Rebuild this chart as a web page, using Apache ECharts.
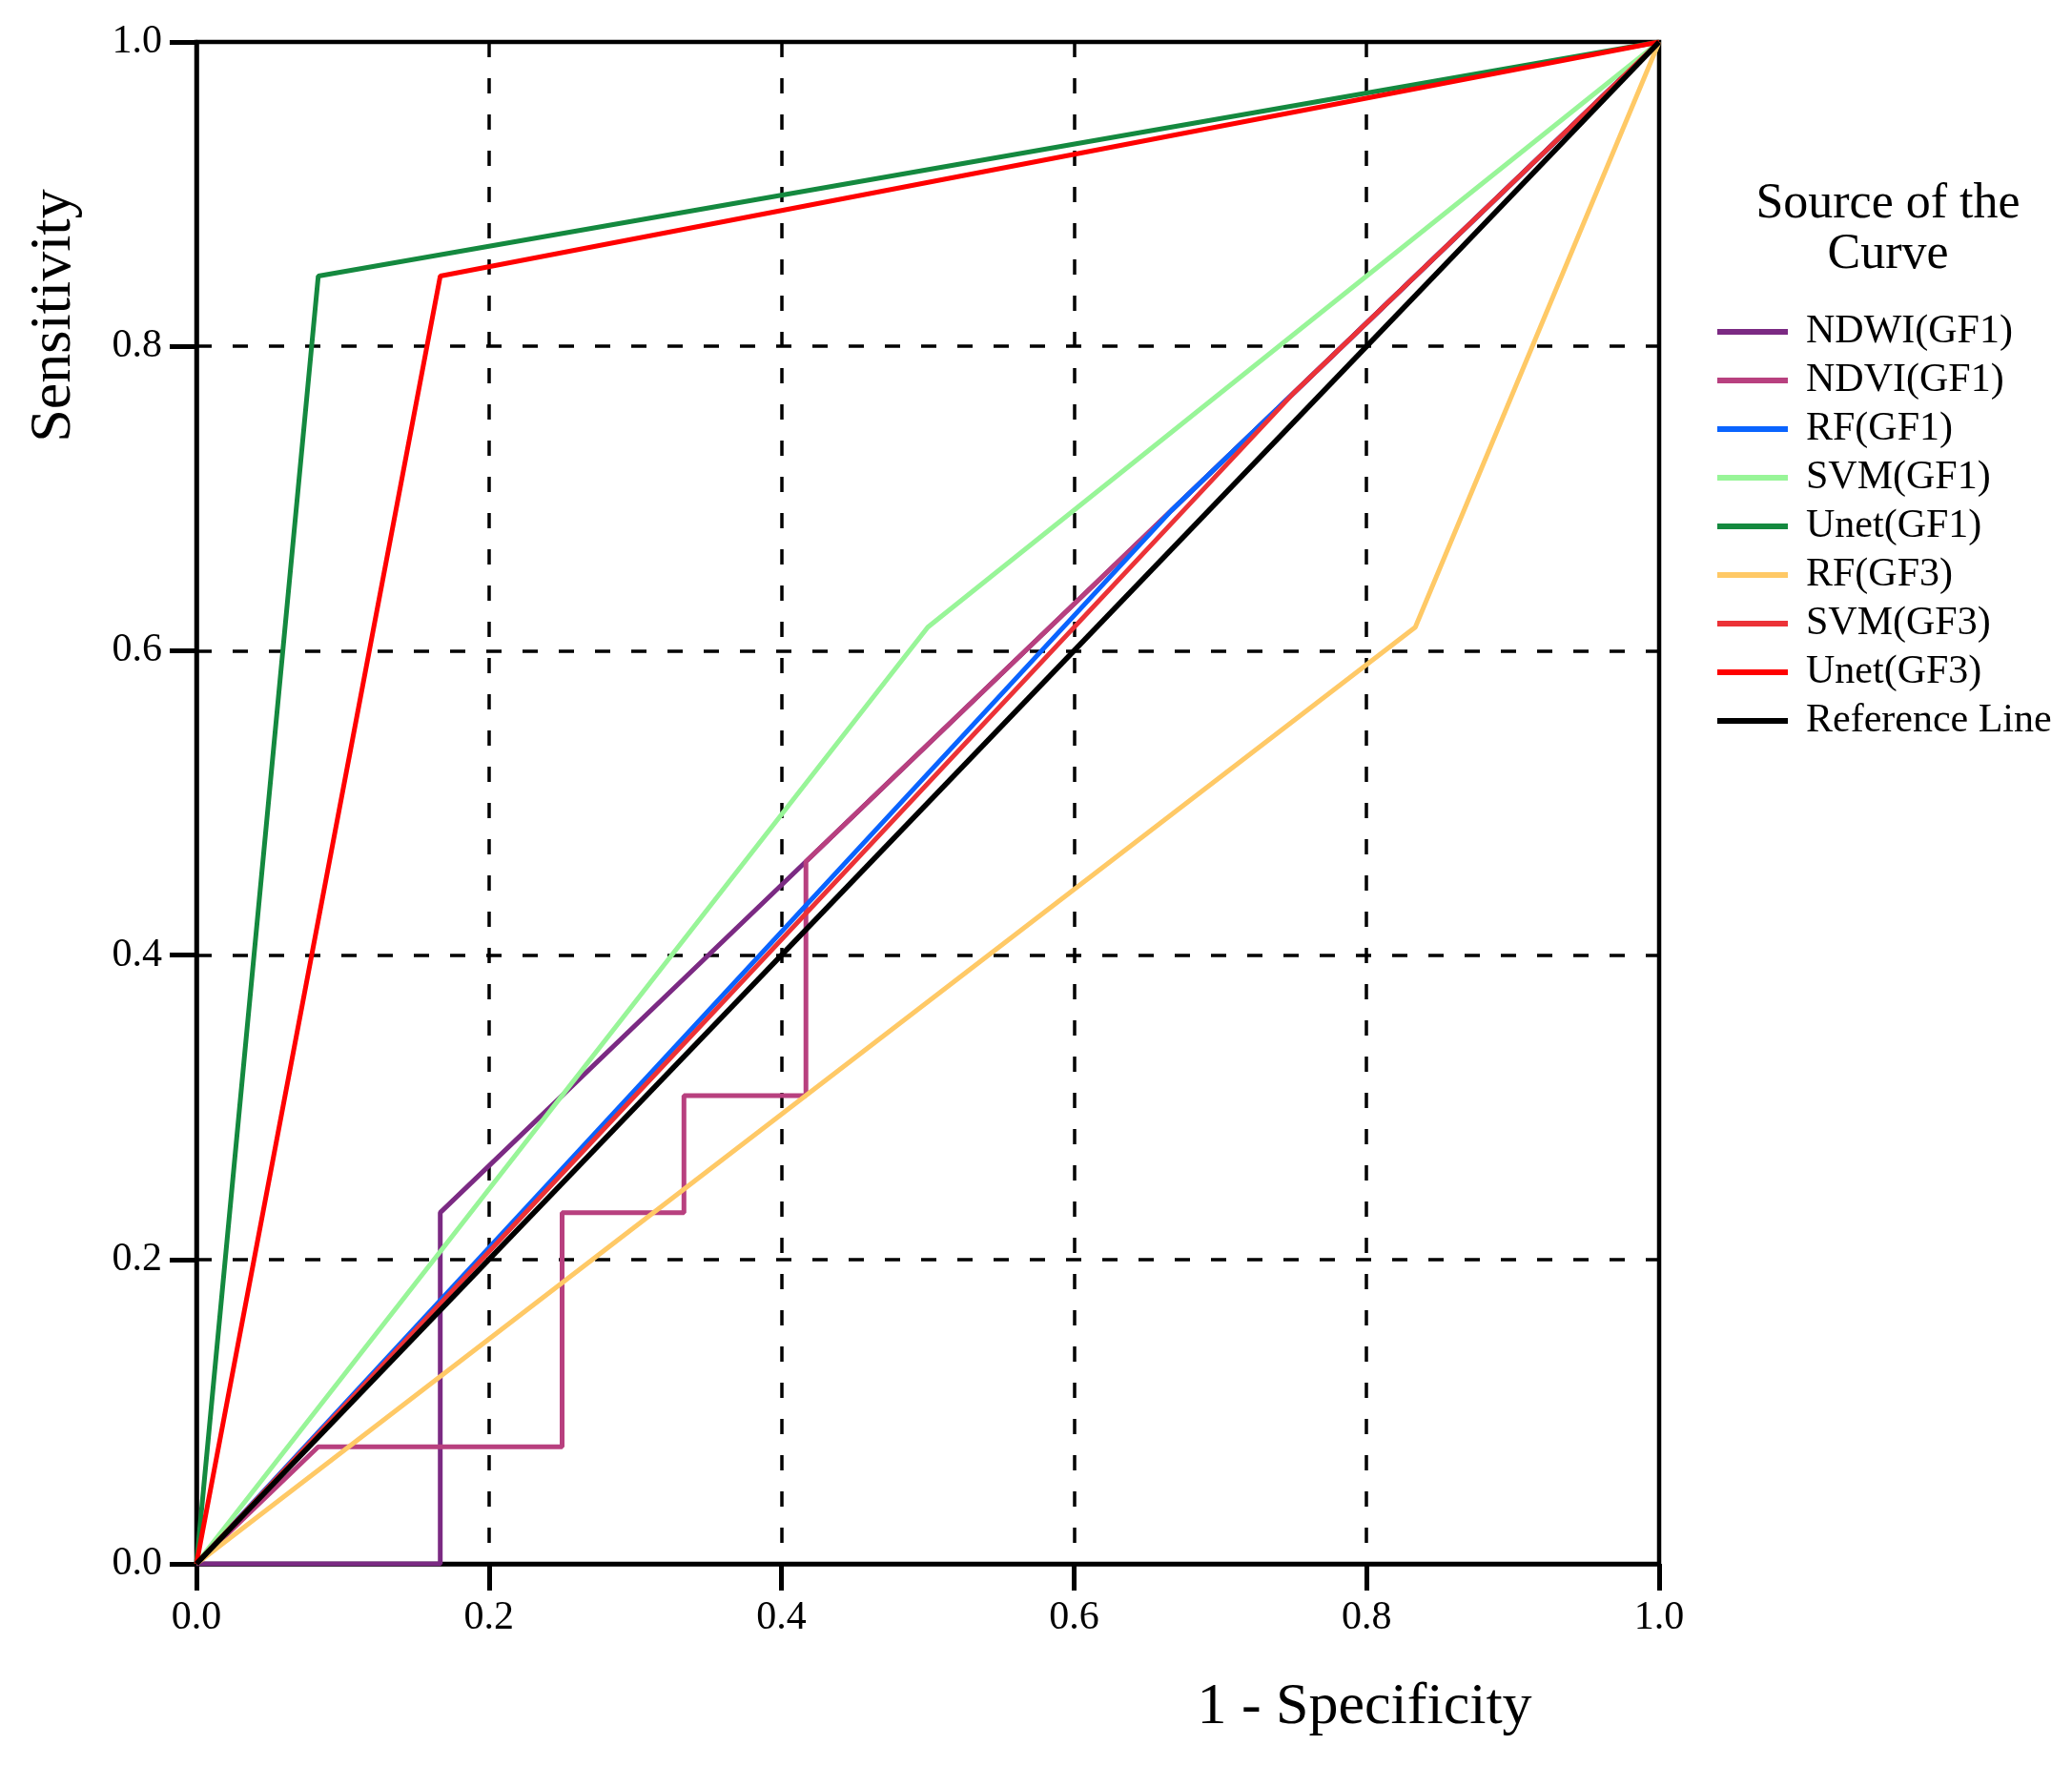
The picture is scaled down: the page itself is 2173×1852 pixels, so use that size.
<!DOCTYPE html>
<html>
<head>
<meta charset="utf-8">
<script src="https://cdn.jsdelivr.net/npm/echarts@6/dist/echarts.min.js"></script>
<style>
html,body{margin:0;padding:0;background:#fff;}
#chart{width:2173px;height:1852px;}
</style>
</head>
<body>
<div id="chart"></div>
<script>
// ROC points [1 - Specificity, Sensitivity]
const ndwiGF1 = [[0,0],[0.1667,0],[0.1667,0.2308],[0.4167,0.4615],[1,1]];
const ndviGF1 = [[0,0],[0.0833,0.0769],[0.25,0.0769],[0.25,0.2308],[0.3333,0.2308],[0.3333,0.3077],[0.4167,0.3077],[0.4167,0.4615],[1,1]];
const rfGF1 = [[0,0],[0.6667,0.6923],[1,1]];
const svmGF1 = [[0,0],[0.5,0.6154],[1,1]];
const unetGF1 = [[0,0],[0.0833,0.8462],[1,1]];
const rfGF3 = [[0,0],[0.8333,0.6154],[1,1]];
const svmGF3 = [[0,0],[0.75,0.7692],[1,1]];
const unetGF3 = [[0,0],[0.1667,0.8462],[1,1]];
const refLine = [[0,0],[1,1]];

const seriesNames = ['NDWI(GF1)','NDVI(GF1)','RF(GF1)','SVM(GF1)','Unet(GF1)','RF(GF3)','SVM(GF3)','Unet(GF3)','Reference Line'];
const seriesData = [ndwiGF1, ndviGF1, rfGF1, svmGF1, unetGF1, rfGF3, svmGF3, unetGF3, refLine];
const seriesColors = ['#7b2a83','#b8407f','#0a64ff','#98f598','#14893f','#ffc966','#ec3237','#ff0000','#000000'];
const axisTicks = [0, 0.2, 0.4, 0.6, 0.8, 1.0];

const FONT = '"Liberation Serif", "Times New Roman", serif';

const chart = echarts.init(document.getElementById('chart'), null, {renderer:'canvas'});

const series = seriesNames.map((name, i) => ({
  name: name,
  type: 'line',
  data: seriesData[i],
  showSymbol: false,
  symbol: 'none',
  lineStyle: { color: seriesColors[i], width: i === 8 ? 5.5 : 5 },
  itemStyle: { color: seriesColors[i] },
  emphasis: { disabled: true },
  z: 2 + i
}));

const axisCommon = {
  type: 'value',
  min: 0,
  max: 1,
  interval: 0.2,
  axisLine: { show: true, onZero: false, lineStyle: { color: '#000', width: 4.5 } },
  axisTick: { show: true, inside: false, length: 28, lineStyle: { color: '#000', width: 5 } },
  splitLine: { show: true, lineStyle: { color: '#000', width: 3.5, type: [16, 22] } },
  axisLabel: {
    color: '#000', fontFamily: FONT, fontSize: 42,
    formatter: v => v.toFixed(1)
  },
  nameTextStyle: { color: '#000', fontFamily: FONT, fontSize: 62 }
};

chart.setOption({
  animation: false,
  backgroundColor: '#fff',
  title: {
    text: 'Source of the\nCurve',
    left: 1975,
    top: 183,
    textAlign: 'center',
    textStyle: { color: '#000', fontFamily: FONT, fontSize: 52, fontWeight: 'normal', lineHeight: 53 }
  },
  legend: {
    orient: 'vertical',
    left: 1796,
    top: 320,
    icon: 'rect',
    itemWidth: 74,
    itemHeight: 6,
    itemGap: 5,
    textStyle: { color: '#000', fontFamily: FONT, fontSize: 42, lineHeight: 46, padding: [0,0,0,14] },
    data: seriesNames
  },
  grid: {
    left: 206, right: 433, top: 44, bottom: 212,
    show: true, borderColor: '#000', borderWidth: 4.5, backgroundColor: 'transparent'
  },
  xAxis: Object.assign({}, axisCommon, {
    name: '1 - Specificity',
    nameLocation: 'middle',
    nameGap: 120,
    nameMoveOverlap: false,
    nameTextStyle: { color: '#000', fontFamily: FONT, fontSize: 62, padding: [0,0,0,916] },
    axisLabel: Object.assign({}, axisCommon.axisLabel, { margin: 36 })
  }),
  yAxis: Object.assign({}, axisCommon, {
    name: 'Sensitivity',
    nameLocation: 'middle',
    nameGap: 118,
    nameMoveOverlap: false,
    nameTextStyle: { color: '#000', fontFamily: FONT, fontSize: 62, padding: [0,0,0,1022] },
    axisLabel: Object.assign({}, axisCommon.axisLabel, { margin: 36 })
  }),
  series: series
});
</script>
</body>
</html>
